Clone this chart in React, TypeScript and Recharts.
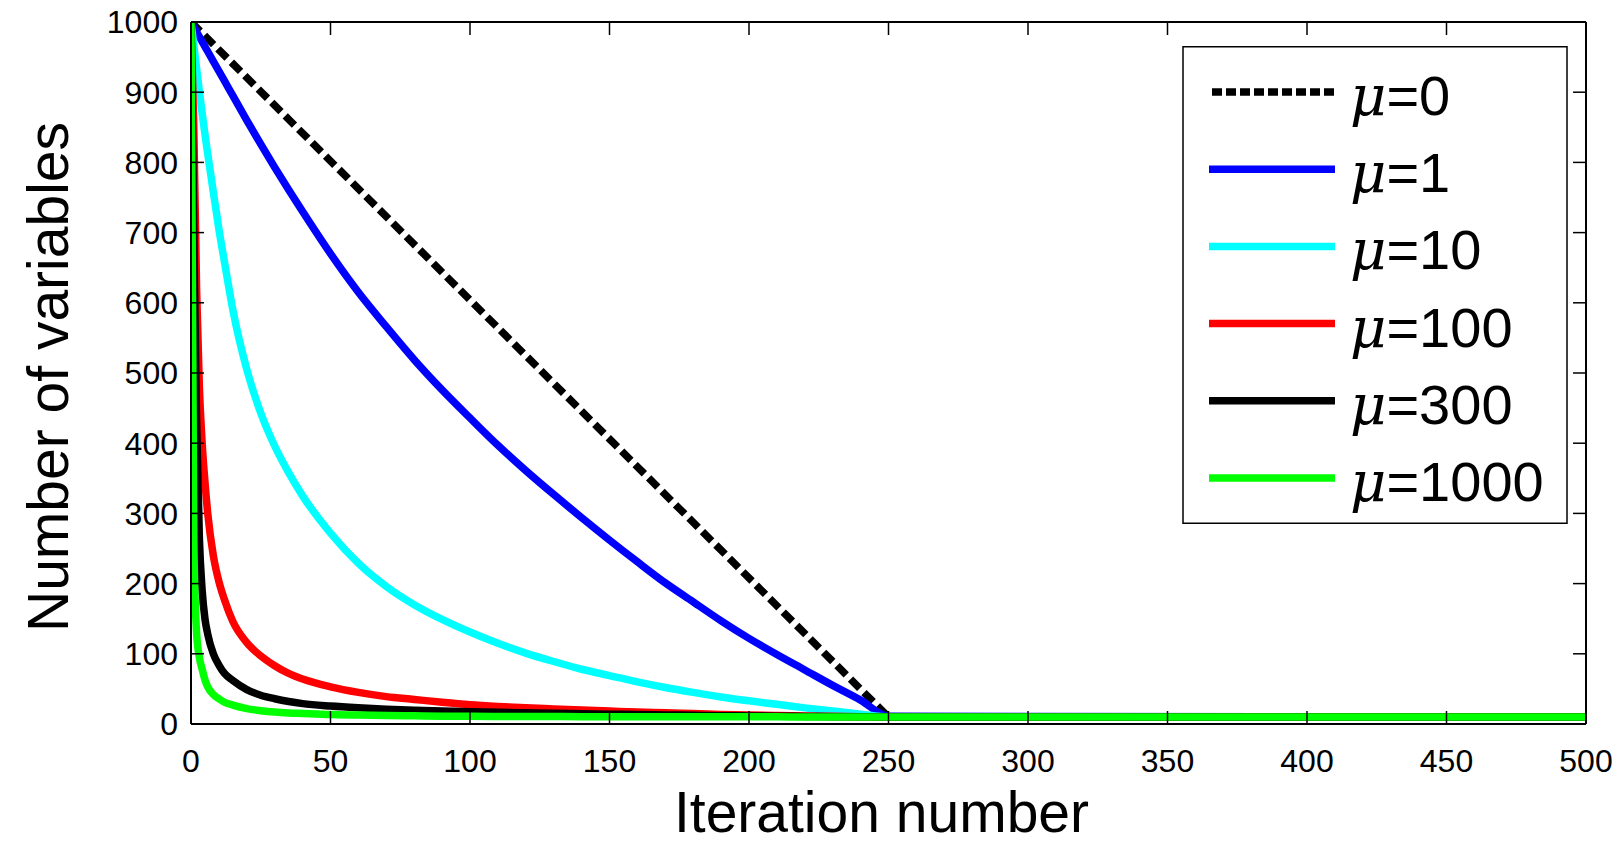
import { LineChart, Line, XAxis, YAxis, Legend, Label } from "recharts";

// iteration grid shared by the curved series (dense near 0 where they drop fast)
const iterations = [
  0, 1, 2, 3, 4, 5, 6, 8, 10, 12, 15, 20, 25, 30, 35, 40, 50, 60, 70, 80, 90, 100,
  110, 120, 130, 140, 150, 160, 170, 180, 190, 200, 210, 220, 230, 240, 250, 500,
];
// mu = 0 is a straight line, only its corners are needed
const iterationsLinear = [0, 250, 500];

const mu0 = [1000, 10, 10];
const mu1 = [
  1000, 993, 986, 979, 972, 965, 958, 944, 930, 916, 895, 860, 826, 793, 761, 730, 670, 615, 566, 519, 476, 436,
  397, 361, 327, 294, 262, 231, 201, 174, 147, 122, 99, 77, 55, 34, 11, 10,
];
const mu10 = [
  1000, 967, 934, 901, 870, 840, 812, 758, 705, 658, 590, 505, 443, 396, 358, 325, 272, 229, 196, 170, 149, 131,
  115, 101, 89, 78, 69, 60, 52, 45, 38.5, 33, 28, 23, 18.5, 14, 10, 10,
];
const mu100 = [
  1000, 850, 620, 480, 400, 345, 300, 240, 203, 177, 146, 116, 97, 83, 72, 64, 53, 45, 39, 35, 31, 27.5,
  25, 23, 21.5, 20, 18.5, 17, 16, 14.8, 13.7, 12.8, 12.1, 11.5, 11, 10.5, 10, 10,
];
const mu300 = [
  1000, 700, 430, 265, 190, 150, 128, 100, 84, 72, 62, 49, 41, 36, 32, 29, 25.5, 23, 21, 19.5, 18.5, 17.5,
  16.6, 15.9, 15.2, 14.6, 14, 13.4, 12.9, 12.4, 11.9, 11.5, 11.1, 10.8, 10.5, 10.2, 10, 10,
];
const mu1000 = [
  1000, 260, 130, 95, 78, 63, 53, 42, 36, 31, 27, 22, 19, 17, 15.8, 15, 13.5, 12.8, 12.2, 11.7, 11.2, 10.9,
  10.8, 10.7, 10.6, 10.5, 10.5, 10.4, 10.4, 10.3, 10.3, 10.2, 10.2, 10.1, 10.1, 10.1, 10, 10,
];

const xTicks = [0, 50, 100, 150, 200, 250, 300, 350, 400, 450, 500];
const yTicks = [0, 100, 200, 300, 400, 500, 600, 700, 800, 900, 1000];

const toPoints = (xs: number[], ys: number[]) => xs.map((x, i) => ({ x, v: ys[i] }));

const series = [
  { name: "μ=0", color: "#000000", dash: "13 6", legendDash: "10 4", data: toPoints(iterationsLinear, mu0), type: "linear" },
  { name: "μ=1", color: "#0000ff", data: toPoints(iterations, mu1), type: "monotone" },
  { name: "μ=10", color: "#00ffff", data: toPoints(iterations, mu10), type: "monotone" },
  { name: "μ=100", color: "#ff0000", data: toPoints(iterations, mu100), type: "monotone" },
  { name: "μ=300", color: "#000000", data: toPoints(iterations, mu300), type: "monotone" },
  { name: "μ=1000", color: "#00ff00", data: toPoints(iterations, mu1000), type: "monotone" },
];

const FONT = "'Liberation Sans', Arial, Helvetica, sans-serif";
const TICK = 13;
const X_LABEL_GAP = 25;
const Y_LABEL_GAP = 13;
const TICK_FONT = 32;

// MATLAB style ticks pointing into the box
function BottomTick(props: any) {
  const { x, y, payload } = props;
  const axisY = y - X_LABEL_GAP;
  return (
    <g>
      <line x1={x} x2={x} y1={axisY} y2={axisY - TICK} stroke="#000" strokeWidth={1.5} />
      <text x={x} y={y} dy="0.71em" textAnchor="middle" fontSize={TICK_FONT} fontFamily={FONT} fill="#000">
        {payload.value}
      </text>
    </g>
  );
}

function LeftTick(props: any) {
  const { x, y, payload } = props;
  const axisX = x + Y_LABEL_GAP;
  return (
    <g>
      <line x1={axisX} x2={axisX + TICK} y1={y} y2={y} stroke="#000" strokeWidth={1.5} />
      <text x={x} y={y} dy="0.355em" textAnchor="end" fontSize={TICK_FONT} fontFamily={FONT} fill="#000">
        {payload.value}
      </text>
    </g>
  );
}

function TopTick(props: any) {
  const { x, y } = props;
  return <line x1={x} x2={x} y1={y} y2={y + TICK} stroke="#000" strokeWidth={1.5} />;
}

function RightTick(props: any) {
  const { x, y } = props;
  return <line x1={x} x2={x - TICK} y1={y} y2={y} stroke="#000" strokeWidth={1.5} />;
}

function MuLegend({ payload }: any) {
  const order = series.map((s) => s.name);
  const items = (payload || []).slice().sort((a: any, b: any) => order.indexOf(a.value) - order.indexOf(b.value));
  return (
    <svg width={386} height={478} style={{ display: "block" }}>
      <rect x={1} y={0.75} width={384} height={476.5} fill="#fff" stroke="#000" strokeWidth={1.5} />
      {items.map((entry: any, i: number) => {
        const s = series.find((d) => d.name === entry.value);
        const cy = 46 + i * 77.2;
        const [, rest] = String(entry.value).split("=");
        return (
          <g key={entry.value}>
            <line
              x1={s?.legendDash ? 30 : 27}
              x2={153}
              y1={cy}
              y2={cy}
              stroke={entry.color}
              strokeWidth={7.5}
              strokeDasharray={s?.legendDash}
            />
            <text x={168} y={cy + 23} fontSize={56} fontFamily={FONT} fill="#000">
              <tspan fontFamily="'DejaVu Serif', 'Liberation Serif', serif" fontStyle="italic">μ</tspan>={rest}
            </text>
          </g>
        );
      })}
    </svg>
  );
}

export default function App() {
  return (
    <div style={{ position: "absolute", left: 0, top: 0, background: "#fff" }}>
      <LineChart width={1623} height={846} margin={{ top: 0, right: 0, bottom: 0, left: 0 }} style={{ fontFamily: FONT }}>
        <XAxis
          dataKey="x"
          type="number"
          domain={[0, 500]}
          allowDataOverflow
          ticks={xTicks}
          interval={0}
          height={122}
          tickSize={0}
          tickMargin={X_LABEL_GAP}
          tickLine={false}
          tick={BottomTick}
          axisLine={{ stroke: "#000", strokeWidth: 2 }}
        >
          <Label
            content={({ viewBox }: any) => (
              <text
                x={viewBox.x + viewBox.width / 2 - 7}
                y={viewBox.y + 108}
                textAnchor="middle"
                fontSize={57}
                fontFamily={FONT}
                fill="#000"
              >
                Iteration number
              </text>
            )}
          />
        </XAxis>
        <XAxis
          xAxisId="top"
          orientation="top"
          dataKey="x"
          type="number"
          domain={[0, 500]}
          allowDataOverflow
          ticks={xTicks}
          interval={0}
          height={22}
          tickSize={0}
          tickMargin={0}
          tickLine={false}
          tick={TopTick}
          axisLine={{ stroke: "#000", strokeWidth: 2 }}
        />
        <YAxis
          type="number"
          domain={[0, 1000]}
          allowDataOverflow
          ticks={yTicks}
          interval={0}
          width={191}
          tickSize={0}
          tickMargin={Y_LABEL_GAP}
          tickLine={false}
          tick={LeftTick}
          axisLine={{ stroke: "#000", strokeWidth: 2 }}
        >
          <Label
            content={({ viewBox }: any) => {
              const cx = 68;
              const cy = viewBox.y + viewBox.height / 2 + 4;
              return (
                <text
                  x={cx}
                  y={cy}
                  transform={`rotate(-90, ${cx}, ${cy})`}
                  textAnchor="middle"
                  fontSize={57}
                  fontFamily={FONT}
                  fill="#000"
                >
                  Number of variables
                </text>
              );
            }}
          />
        </YAxis>
        <YAxis
          yAxisId="right"
          orientation="right"
          type="number"
          domain={[0, 1000]}
          allowDataOverflow
          ticks={yTicks}
          interval={0}
          width={37}
          tickSize={0}
          tickMargin={0}
          tickLine={false}
          tick={RightTick}
          axisLine={{ stroke: "#000", strokeWidth: 2 }}
        />
        <Legend
          layout="horizontal"
          verticalAlign="middle"
          align="center"
          wrapperStyle={{ left: 1182, top: 45.5, width: 386, height: 478 }}
          content={MuLegend}
        />
        {series.map((s) => (
          <Line
            key={s.name}
            name={s.name}
            data={s.data}
            dataKey="v"
            type={s.type as any}
            stroke={s.color}
            strokeWidth={7.5}
            strokeDasharray={s.dash}
            strokeLinejoin="round"
            dot={false}
            activeDot={false}
            isAnimationActive={false}
          />
        ))}
      </LineChart>
    </div>
  );
}
